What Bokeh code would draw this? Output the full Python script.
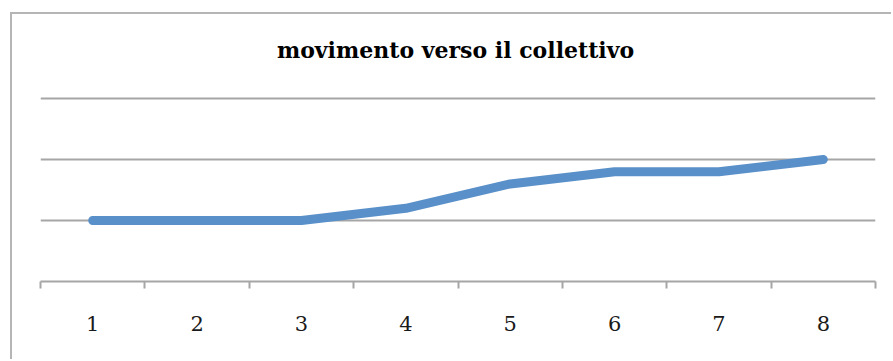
from bokeh.plotting import figure
from bokeh.models import Range1d, FixedTicker, LinearAxis, Grid, Label
from bokeh.embed import file_html
from bokeh.resources import INLINE

title_text = "movimento verso il collettivo"
categories = [1, 2, 3, 4, 5, 6, 7, 8]
values = [1.0, 1.0, 1.0, 1.2, 1.6, 1.8, 1.8, 2.0]
tick_labels = ["1", "2", "3", "4", "5", "6", "7", "8"]
grid_values = [1, 2, 3]

# frame spans window y 30..281 so the title can live inside it
p = figure(width=881, height=347, output_backend="svg", toolbar_location=None,
           x_range=Range1d(0.5, 8.5), y_range=Range1d(0, 4.115),
           x_axis_type=None, y_axis_type=None,
           min_border_left=28, min_border_right=18, min_border_top=16, min_border_bottom=80)
p.styles = {"border-left": "2px solid #b5b5b5", "border-top": "2px solid #b5b5b5",
            "margin-left": "10px", "margin-top": "12px"}
p.outline_line_color = None
p.background_fill_color = "white"
p.border_fill_color = "white"

title = Label(x=415, y=232, x_units="screen", y_units="screen", text=title_text,
              text_align="center", text_baseline="middle",
              text_font="DejaVu Serif", text_font_style="bold",
              text_font_size="22px", text_color="#000000")
p.add_layout(title)

xaxis = LinearAxis(ticker=FixedTicker(ticks=categories,
                                      minor_ticks=[c - 0.5 for c in categories] + [categories[-1] + 0.5]))
xaxis.major_label_overrides = {c: t for c, t in zip(categories, tick_labels)}
xaxis.major_tick_line_color = None
xaxis.minor_tick_line_color = "#a6a6a6"
xaxis.minor_tick_line_width = 2
xaxis.minor_tick_in = 0
xaxis.minor_tick_out = 7
xaxis.axis_line_color = "#a6a6a6"
xaxis.axis_line_width = 2
xaxis.major_label_text_font = "DejaVu Serif"
xaxis.major_label_text_font_size = "21px"
xaxis.major_label_text_color = "#1a1a1a"
xaxis.major_label_standoff = 27
p.add_layout(xaxis, "below")

ygrid = Grid(dimension=1, ticker=FixedTicker(ticks=grid_values),
             grid_line_color="#a6a6a6", grid_line_width=2)
p.add_layout(ygrid)

p.line(categories, values, line_color="#5a90c9", line_width=9,
       line_cap="round", line_join="round")

open("out.html", "w").write(file_html(p, INLINE))
